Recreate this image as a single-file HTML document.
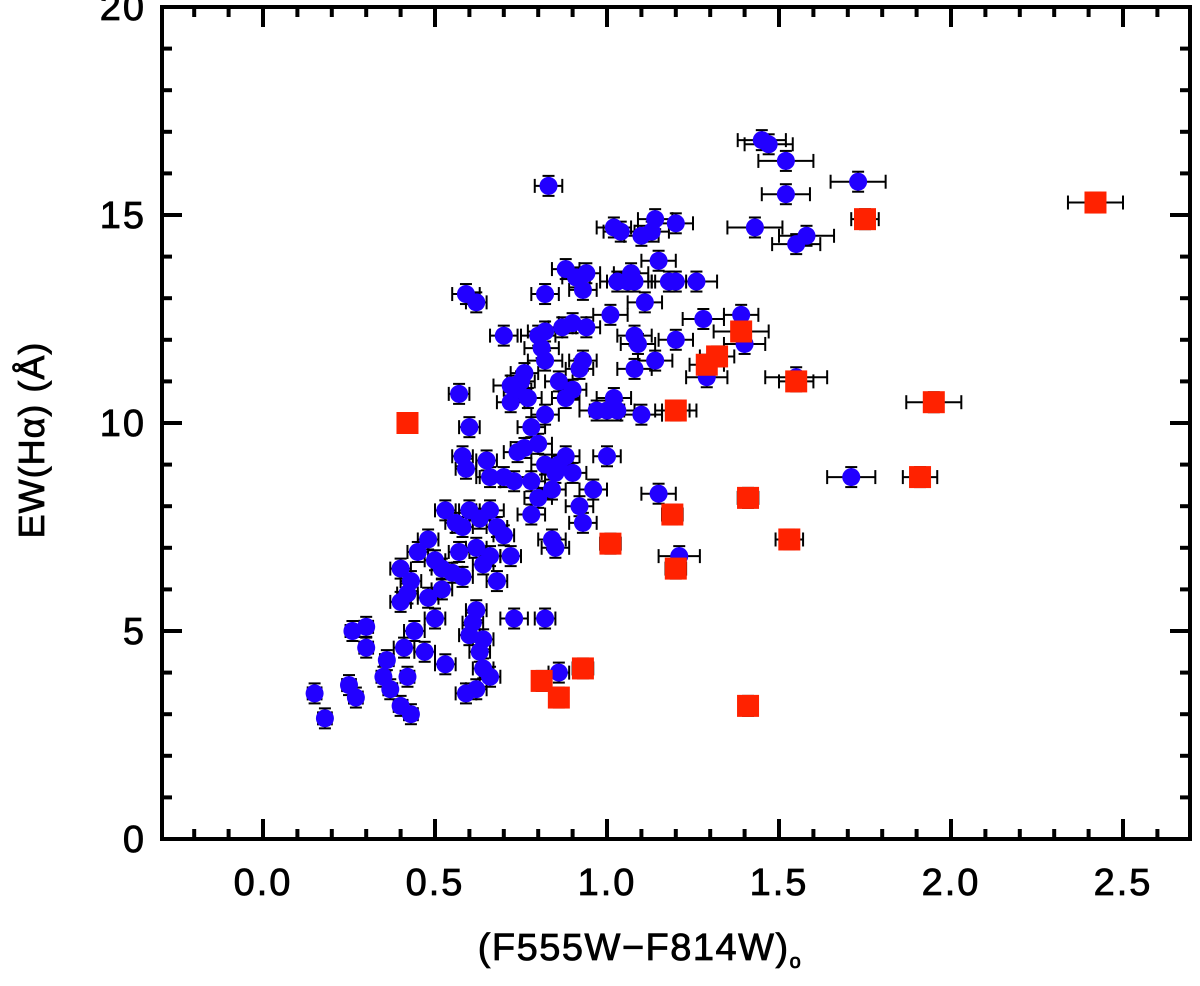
<!DOCTYPE html>
<html><head><meta charset="utf-8"><style>
html,body{margin:0;padding:0;background:#fff;}
svg{display:block;font-family:"Liberation Sans",sans-serif;}
</style></head><body>
<svg id="chart" width="1200" height="986">
<g id="marks"></g>
<g id="axes"></g>
</svg>
<script>
const xTicks=[0.0,0.5,1.0,1.5,2.0,2.5];
const xTickLabels=["0.0","0.5","1.0","1.5","2.0","2.5"];
const yTicks=[0,5,10,15,20];
const yTickLabels=["0","5","10","15","20"];
const blueX=[0.15,0.18,0.25,0.27,0.26,0.30,0.30,0.35,0.36,0.37,0.40,0.42,0.43,0.41,0.40,0.42,0.40,0.43,0.45,0.44,0.48,0.48,0.47,0.50,0.50,0.52,0.52,0.53,0.53,0.55,0.56,0.57,0.58,0.58,0.58,0.59,0.57,0.60,0.60,0.62,0.63,0.64,0.65,0.66,0.60,0.61,0.62,0.59,0.62,0.63,0.64,0.64,0.66,0.68,0.70,0.68,0.72,0.73,0.66,
0.59,0.62,0.70,0.72,0.74,0.75,0.77,0.78,0.80,0.81,0.82,0.82,0.80,0.78,0.80,0.82,0.84,0.85,0.86,0.88,0.90,0.88,0.90,0.86,0.87,0.90,0.92,0.93,0.94,0.82,0.88,0.91,0.93,0.94,0.83,0.82,0.84,0.85,0.82,0.86,0.78,0.92,0.93,0.96,0.97,1.00,1.00,1.01,1.02,1.03,1.03,1.04,1.02,1.06,1.07,1.08,1.08,1.09,1.08,1.10,1.10,1.11,1.13,1.14,1.15,1.14,1.15,1.18,1.20,1.20,1.20,1.20,1.21,1.26,1.28,1.29,1.39,1.40,1.45,1.47,1.52,1.52,1.43,1.55,1.58,1.73,1.71,1.55,0.70,0.74,0.76,0.73,0.76,0.72,0.66];
const blueY=[3.5,2.9,3.7,3.4,5.0,5.1,4.6,3.9,4.3,3.6,3.2,3.9,3.0,4.6,5.7,5.9,6.5,6.2,6.9,5.0,5.8,7.2,4.5,6.7,5.3,6.5,6.0,7.9,4.2,6.4,7.6,6.9,7.5,6.3,9.2,8.9,10.7,9.9,7.9,7.0,7.7,6.6,9.1,8.7,4.9,5.2,5.5,3.5,3.6,4.5,4.8,4.1,6.8,7.5,7.3,6.2,6.8,5.3,3.9,
13.1,12.9,12.1,10.5,10.8,11.0,10.6,9.9,12.1,11.8,12.2,11.5,9.5,8.6,8.2,9.0,8.4,8.8,9.0,9.2,8.8,10.6,10.8,11.0,12.3,12.4,11.3,11.5,12.3,13.1,13.7,13.5,13.2,13.6,15.7,10.2,7.2,7.0,5.3,4.0,7.8,8.0,7.6,8.4,10.3,9.2,10.3,12.6,10.6,10.3,13.4,14.6,14.7,13.4,13.6,13.4,12.1,11.9,11.3,10.2,14.5,12.9,14.6,14.9,13.9,11.5,8.3,13.4,13.4,14.8,12.0,10.3,6.8,13.4,12.5,11.1,12.6,11.9,16.8,16.7,16.3,15.5,14.7,14.3,14.5,15.8,8.7,11.1,8.7,9.3,9.4,8.6,11.2,10.9,7.9];
const blueErr=[0.02,0.02,0.02,0.02,0.02,0.02,0.02,0.02,0.02,0.02,0.02,0.02,0.02,0.03,0.03,0.03,0.03,0.03,0.03,0.03,0.03,0.03,0.03,0.03,0.03,0.03,0.03,0.03,0.03,0.03,0.03,0.03,0.03,0.03,0.03,0.03,0.03,0.03,0.03,0.03,0.03,0.03,0.03,0.03,0.03,0.03,0.03,0.03,0.03,0.03,0.03,0.03,0.03,0.03,0.03,0.03,0.03,0.04,0.03,
0.04,0.03,0.04,0.04,0.04,0.04,0.04,0.04,0.05,0.05,0.05,0.05,0.04,0.04,0.04,0.04,0.04,0.04,0.04,0.04,0.04,0.04,0.04,0.04,0.04,0.04,0.04,0.04,0.04,0.04,0.04,0.04,0.04,0.04,0.04,0.04,0.04,0.04,0.03,0.03,0.04,0.04,0.04,0.04,0.05,0.04,0.05,0.05,0.05,0.05,0.05,0.05,0.05,0.06,0.05,0.05,0.05,0.05,0.05,0.06,0.05,0.05,0.05,0.05,0.05,0.05,0.05,0.05,0.06,0.05,0.05,0.06,0.06,0.06,0.06,0.06,0.05,0.06,0.07,0.07,0.08,0.07,0.08,0.07,0.08,0.08,0.07,0.09,0.08,0.04,0.04,0.04,0.04,0.05,0.04,0.04];
const redX=[0.42,0.81,0.86,0.93,1.01,1.19,1.20,1.20,1.29,1.32,1.39,1.41,1.41,1.53,1.55,1.75,1.91,1.95,2.42];
const redY=[10.0,3.8,3.4,4.1,7.1,7.8,6.5,10.3,11.4,11.6,12.2,8.2,3.2,7.2,11.0,14.9,8.7,10.5,15.3];
const redErr=[0.02,0.02,0.02,0.03,0.03,0.03,0.03,0.04,0.05,0.05,0.08,0.03,0.02,0.04,0.05,0.04,0.05,0.08,0.08];

const L=162,R=1190,T=7,B=839;
const sx=v=>263+344*v;
const sy=v=>839-41.6*v;
const NS="http://www.w3.org/2000/svg";
const marks=document.getElementById('marks'), axes=document.getElementById('axes');
function mk(tag,attrs,parent){const e=document.createElementNS(NS,tag);for(const k in attrs)e.setAttribute(k,attrs[k]);parent.appendChild(e);return e;}
function errbar(x,y,ex,name){
  const g=mk('g',{stroke:'#000','stroke-width':2},marks);
  
  
  const x1=sx(x-ex),x2=sx(x+ex),yy=sy(y);
  mk('line',{x1:x1,x2:x2,y1:yy,y2:yy},g);
  mk('line',{x1:x1,x2:x1,y1:yy-7,y2:yy+7},g);
  mk('line',{x1:x2,x2:x2,y1:yy-7,y2:yy+7},g);
  mk('line',{x1:sx(x),x2:sx(x),y1:yy-10,y2:yy+10},g);
  mk('line',{x1:sx(x)-6,x2:sx(x)+6,y1:yy-10,y2:yy-10},g);
  mk('line',{x1:sx(x)-6,x2:sx(x)+6,y1:yy+10,y2:yy+10},g);
}
for(let i=0;i<blueX.length;i++) errbar(blueX[i],blueY[i],blueErr[i],'blue-error-bar');
for(let i=0;i<redX.length;i++) errbar(redX[i],redY[i],redErr[i],'red-error-bar');
for(let i=0;i<blueX.length;i++){
  const c=mk('circle',{cx:sx(blueX[i]),cy:sy(blueY[i]),r:9,fill:'#2200ff'},marks);
  
  
}
for(let i=0;i<redX.length;i++){
  const r=mk('rect',{x:sx(redX[i])-11,y:sy(redY[i])-11,width:22,height:22,fill:'#ff2200'},marks);
  
  
}
const fr=mk('rect',{x:L,y:T,width:R-L,height:B-T,fill:'none',stroke:'#000','stroke-width':4},axes);


for(let k=-2;k<=26;k++){
  const v=k/10, px=sx(v); if(px<=L+2||px>=R-2) continue;
  const len=(k%5===0)?20:10;
  mk('line',{x1:px,x2:px,y1:B,y2:B-len,stroke:'#000','stroke-width':4},axes);
  mk('line',{x1:px,x2:px,y1:T,y2:T+len,stroke:'#000','stroke-width':4},axes);
}
for(let v=1;v<20;v++){
  const py=sy(v); const len=(v%5===0)?20:10;
  mk('line',{x1:L,x2:L+len,y1:py,y2:py,stroke:'#000','stroke-width':4},axes);
  mk('line',{x1:R,x2:R-len,y1:py,y2:py,stroke:'#000','stroke-width':4},axes);
}
xTicks.forEach((v,i)=>{
  const t=mk('text',{x:sx(v),y:895,'font-size':38,'text-anchor':'middle',fill:'#000',stroke:'#000','stroke-width':0.8,'letter-spacing':2},axes);
  t.textContent=xTickLabels[i];
  
  
});
yTicks.forEach((v,i)=>{
  const t=mk('text',{x:146,y:sy(v)+13,'font-size':38,'text-anchor':'end',fill:'#000',stroke:'#000','stroke-width':0.8,'letter-spacing':2},axes);
  t.textContent=yTickLabels[i];
  
  
});
const xt=mk('text',{x:640,y:960,'font-size':38,'text-anchor':'middle',fill:'#000',stroke:'#000','stroke-width':0.8,'letter-spacing':1.5},axes);
xt.innerHTML='(F555W\u2212F814W)<tspan font-size="20" dy="8">o</tspan>';


const yt=mk('text',{x:0,y:0,'font-size':36,'text-anchor':'middle',fill:'#000',stroke:'#000','stroke-width':0.8,'letter-spacing':1,transform:'translate(44,440) rotate(-90)'},axes);
yt.textContent='EW(H\u03b1)  (\u00c5)';


</script>
</body></html>
